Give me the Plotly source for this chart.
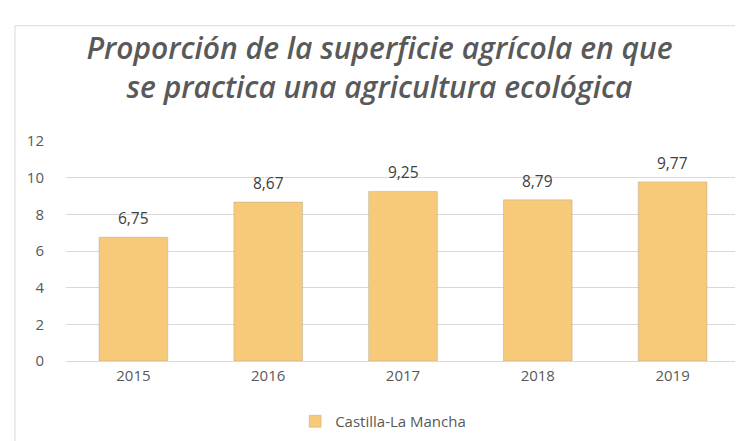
import plotly.graph_objects as go

years = ["2015", "2016", "2017", "2018", "2019"]
values = [6.75, 8.67, 9.25, 8.79, 9.77]
series_name = "Castilla-La Mancha"
title_lines = ["Proporción de la superficie agrícola en que", "se practica una agricultura ecológica"]

fig = go.Figure()
fig.add_trace(go.Bar(
    x=years, y=values, name=series_name,
    marker=dict(color="#F7CA7A", line=dict(color="rgba(150,150,150,0.35)", width=1)),
    width=0.51, showlegend=True,
))

for i, v in enumerate(values):
    fig.add_annotation(x=i, y=v, text=f"{v:.2f}".replace(".", ","), showarrow=False,
                       yanchor="bottom", yshift=6, font=dict(size=15.5, color="#404040",
                       family="Open Sans"))

# outer frame
fig.add_shape(type="rect", xref="paper", yref="paper", x0=-0.0757, x1=1.03, y0=-0.40, y1=1.524,
              line=dict(color="#D9D9D9", width=1), fillcolor="rgba(0,0,0,0)", layer="below")

fig.update_layout(
    width=743, height=441,
    margin=dict(l=58, r=11, t=133, b=81),
    paper_bgcolor="white", plot_bgcolor="white",
    separators=",.",
    title=dict(text="<br>".join(title_lines), x=0.5, xanchor="center", xref="container",
               y=0.885, yanchor="middle", yref="container",
               font=dict(family="Open Sans", size=30, color="#595959", style="italic", weight=600)),
    xaxis=dict(type="category", range=[-0.5, 4.5], showgrid=False, showline=False,
               tickfont=dict(size=15, color="#595959", family="Open Sans"),
               ticks="", ticklabelstandoff=4),
    yaxis=dict(range=[0, 12], dtick=2, showgrid=True, gridcolor="#D9D9D9", gridwidth=1,
               zeroline=True, zerolinecolor="#D9D9D9", zerolinewidth=1,
               tickfont=dict(size=15, color="#595959", family="Open Sans"),
               ticklabelstandoff=21),
    legend=dict(orientation="h", x=0.34, xanchor="left", y=-0.275, yanchor="middle",
                font=dict(size=15, color="#595959", family="Open Sans"), itemwidth=30),
)

fig.write_html("out.html")
